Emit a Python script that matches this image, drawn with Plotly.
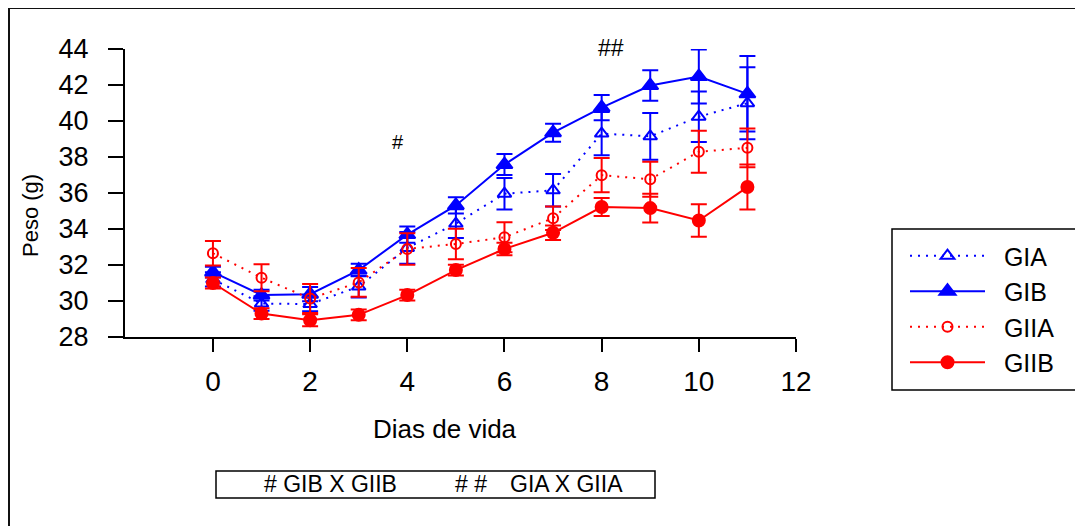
import plotly.graph_objects as go

# ---- data ----
dias = [0, 1, 2, 3, 4, 5, 6, 7, 8, 9, 10, 11]

gia = [31.2, 29.86, 29.83, 30.8, 32.95, 34.3, 35.96, 36.15, 39.3, 39.15, 40.24, 40.99]
gia_err = [0.4, 0.4, 0.4, 0.6, 0.88, 0.8, 0.88, 0.9, 1.2, 1.3, 1.4, 2.0]

gib = [31.6, 30.33, 30.38, 31.72, 33.69, 35.31, 37.58, 39.35, 40.74, 41.97, 42.47, 41.51]
gib_err = [0.3, 0.3, 0.4, 0.35, 0.45, 0.45, 0.58, 0.5, 0.7, 0.85, 1.5, 2.1]

giia = [32.65, 31.29, 30.14, 31.03, 32.89, 33.17, 33.54, 34.6, 36.99, 36.76, 38.29, 38.51]
giia_err = [0.68, 0.75, 0.8, 0.8, 0.87, 0.85, 0.83, 0.65, 0.95, 0.97, 1.17, 1.08]

giib = [31.0, 29.3, 28.93, 29.23, 30.33, 31.72, 32.89, 33.79, 35.22, 35.16, 34.47, 36.33]
giib_err = [0.3, 0.3, 0.33, 0.3, 0.3, 0.3, 0.35, 0.4, 0.5, 0.8, 0.9, 1.25]

series_names = ["GIA", "GIB", "GIIA", "GIIB"]
x_ticks = [0, 2, 4, 6, 8, 10, 12]
y_ticks = [28, 30, 32, 34, 36, 38, 40, 42, 44]

BLUE = "#0000FF"
RED = "#FF0000"
FONT = "Liberation Sans, Arial, sans-serif"
NB = "\u00a0\u00a0"  # small gap between legend symbol and label

fig = go.Figure()


def add(name, y, err, color, dash, symbol, size):
    fig.add_trace(go.Scatter(
        x=dias, y=y, name=NB + name, mode="lines+markers",
        line=dict(color=color, width=2, dash=dash),
        marker=dict(symbol=symbol, size=size, color=color,
                    line=dict(color=color, width=2)),
        error_y=dict(type="data", array=err, visible=True,
                     color=color, thickness=2, width=8),
    ))


add(series_names[0], gia, gia_err, BLUE, "2px,6px", "triangle-up-open", 12)
add(series_names[1], gib, gib_err, BLUE, "solid", "triangle-up", 14)
add(series_names[2], giia, giia_err, RED, "2px,6px", "circle-open", 10)
add(series_names[3], giib, giib_err, RED, "solid", "circle", 12)

# page offset (browser body margin) and figure size
OFF = 8
FW, FH = 1083 - OFF, 526 - OFF
# plot box in screen pixels
SL, SR, ST, SB = 125, 796, 49, 337
L, R, T, B = SL - OFF, SR - OFF, ST - OFF, SB - OFF
W, H = R - L, B - T


def px(xs):
    return (xs - OFF - L) / W


def py(ys):
    return (B - (ys - OFF)) / H


fig.update_layout(
    width=FW, height=FH,
    margin=dict(l=L, r=FW - R, t=T, b=FH - B, autoexpand=False),
    paper_bgcolor="white", plot_bgcolor="white",
    font=dict(family=FONT, color="black"),
    showlegend=True,
    legend=dict(
        x=px(905), y=py(233), xanchor="left", yanchor="top",
        borderwidth=0, bgcolor="rgba(0,0,0,0)",
        font=dict(size=25, family=FONT), itemwidth=75,
        tracegroupgap=0,
    ),
)

fig.update_xaxes(
    range=[-1.81, 12], tickvals=x_ticks, ticktext=[str(v) for v in x_ticks],
    showline=True, linecolor="black", linewidth=2,
    ticks="outside", ticklen=13, tickwidth=2, tickcolor="black",
    showgrid=False, zeroline=False, tickfont=dict(size=28),
    ticklabelstandoff=5,
)
fig.update_yaxes(
    range=[28, 44], tickvals=y_ticks, ticktext=[str(v) for v in y_ticks],
    showline=True, linecolor="black", linewidth=2,
    ticks="outside", ticklen=15, tickwidth=2, tickcolor="black",
    showgrid=False, zeroline=False, tickfont=dict(size=27),
    ticklabelstandoff=14,
)

annotations = [
    dict(text="Dias de vida", x=px(445), y=py(429), xref="paper", yref="paper",
         showarrow=False, font=dict(size=26), xanchor="center", yanchor="middle"),
    dict(text="Peso (g)", x=px(30), y=py(216), xref="paper", yref="paper",
         showarrow=False, font=dict(size=22), textangle=-90,
         xanchor="center", yanchor="middle"),
    dict(text="#", x=3.81, y=38.83, xref="x", yref="y", showarrow=False,
         font=dict(size=20), xanchor="center", yanchor="middle"),
    dict(text="##", x=px(611), y=py(48), xref="paper", yref="paper", showarrow=False,
         font=dict(size=23), xanchor="center", yanchor="middle"),
    dict(text="# GIB X GIIB", x=px(262), y=py(484), xref="paper", yref="paper",
         showarrow=False, font=dict(size=23), xanchor="left", yanchor="middle"),
    dict(text="# #", x=px(453), y=py(484), xref="paper", yref="paper",
         showarrow=False, font=dict(size=23), xanchor="left", yanchor="middle"),
    dict(text="GIA X GIIA", x=px(508), y=py(484), xref="paper", yref="paper",
         showarrow=False, font=dict(size=23), xanchor="left", yanchor="middle"),
]
fig.update_layout(annotations=annotations)

shapes = [
    # legend frame
    dict(type="rect", xref="paper", yref="paper", layer="below",
         x0=px(892), x1=px(1100), y0=py(390), y1=py(229),
         line=dict(color="black", width=1.5), fillcolor="white"),
    # box around the significance note
    dict(type="rect", xref="paper", yref="paper",
         x0=px(216), x1=px(655), y0=py(498), y1=py(471),
         line=dict(color="black", width=1.5)),
    # outer frame: top and left edges
    dict(type="line", xref="paper", yref="paper",
         x0=px(9), x1=px(1100), y0=py(8), y1=py(8),
         line=dict(color="#111111", width=2)),
    dict(type="line", xref="paper", yref="paper",
         x0=px(9), x1=px(9), y0=py(8), y1=py(540),
         line=dict(color="#111111", width=2)),
]
fig.update_layout(shapes=shapes)

fig.write_html("out.html")
